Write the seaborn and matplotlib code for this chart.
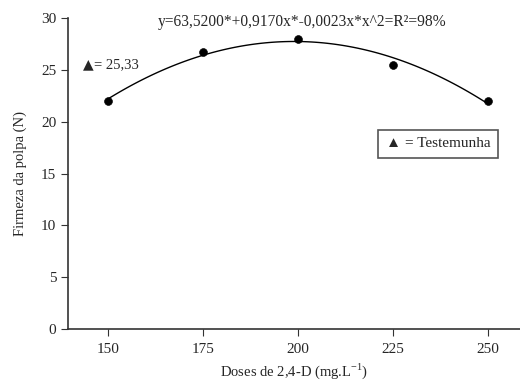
import numpy as np
import pandas as pd
import matplotlib.pyplot as plt
import seaborn as sns

doses = [150, 175, 200, 225, 250]
firmeza = [22.0, 26.7, 28.0, 25.5, 22.0]
x_ticks = [150, 175, 200, 225, 250]
y_ticks = [0, 5, 10, 15, 20, 25, 30]

df = pd.DataFrame({'dose': doses, 'firmeza': firmeza})

sns.set_style('ticks')
plt.rcParams['font.family'] = ['Liberation Serif', 'DejaVu Serif']
plt.rcParams['mathtext.fontset'] = 'custom'
plt.rcParams['mathtext.rm'] = 'Liberation Serif'

fig = plt.figure(figsize=(5.2, 3.81), dpi=100)
ax = fig.add_axes([0.131, 0.136, 0.869, 0.817])

# fitted quadratic curve
sns.regplot(data=df, x='dose', y='firmeza', order=2, ci=None, ax=ax,
            scatter=False, truncate=True,
            line_kws={'color': 'black', 'linewidth': 1})
sns.scatterplot(data=df, x='dose', y='firmeza', ax=ax, color='black',
                s=32, edgecolor='black', zorder=3)

ax.set_xlim(139.5, 258.4)
ax.set_ylim(0, 30)
ax.set_xticks(x_ticks)
ax.set_yticks(y_ticks)
ax.tick_params(labelsize=11, length=5, width=0.8, color='#333333')
ax.tick_params(axis='x', pad=5)
for s in ['left', 'bottom']:
    ax.spines[s].set_linewidth(1.2)
    ax.spines[s].set_color('#333333')
sns.despine(ax=ax)

ax.set_xlabel('Doses de 2,4-D (mg.L$^{\\mathrm{-1}}$)', fontsize=10.5, labelpad=4)
ax.set_ylabel('Firmeza da polpa (N)', fontsize=10.5, labelpad=10)

ax.text(201, 29.6, 'y=63,5200*+0,9170x*-0,0023x*x^2=R²=98%', fontsize=11.2,
        ha='center', va='center')

# control value, triangle marker
ax.text(143.5, 25.5, '\u25B2', fontsize=10, ha='left', va='center',
        family='DejaVu Sans')
ax.annotate('= 25,33', xy=(143.5, 25.5), xytext=(7.5, 0), textcoords='offset points',
            fontsize=10.5, ha='left', va='center')

ax.text(236.8, 17.85, '\u25B2 = Testemunha', fontsize=11, ha='center', va='center',
        family=['Liberation Serif', 'DejaVu Sans'],
        bbox=dict(boxstyle='square,pad=0.5', fc='white', ec='#555555', lw=1.2))

fig.savefig('out.png', dpi=100)
